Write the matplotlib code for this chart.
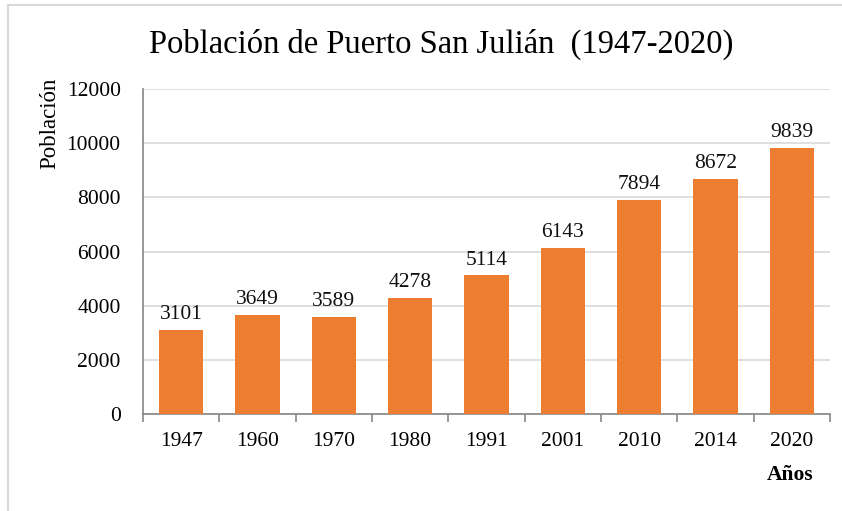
import matplotlib.pyplot as plt
from matplotlib.patches import Rectangle

years = ['1947', '1960', '1970', '1980', '1991', '2001', '2010', '2014', '2020']
population = [3101, 3649, 3589, 4278, 5114, 6143, 7894, 8672, 9839]
yticks = [0, 2000, 4000, 6000, 8000, 10000, 12000]

plt.rcParams['font.family'] = ['Liberation Serif', 'DejaVu Serif']

fig = plt.figure(figsize=(8.42, 5.11), dpi=100)
W, H = 842, 511
ax = fig.add_axes([143 / W, 1 - 414 / H, (830 - 143) / W, (414 - 89) / H])

x = list(range(len(years)))
bars = ax.bar(x, population, width=0.58, color='#ED7D31', zorder=3)
for xi, v in zip(x, population):
    ax.text(xi, v + 220, str(v), ha='center', va='bottom', fontsize=15.5, color='#111111')

ax.set_xlim(-0.5, len(years) - 0.5)
ax.set_ylim(0, 12000)
ax.set_yticks(yticks)
ax.set_yticklabels([str(t) for t in yticks], fontsize=15.5)
ax.yaxis.grid(True, color='#D9D9D9', linewidth=1.2, zorder=0)
ax.tick_params(axis='y', length=0, pad=16)

ax.set_xticks(x)
ax.set_xticklabels(years, fontsize=15.5)
ax.tick_params(axis='x', length=0, pad=13)
ax.set_xticks([i - 0.5 for i in range(len(years) + 1)], minor=True)
ax.tick_params(axis='x', which='minor', length=6, color='#868686', width=1.2)

for s in ['top', 'right']:
    ax.spines[s].set_visible(False)
for s in ['left', 'bottom']:
    ax.spines[s].set_color('#868686')
    ax.spines[s].set_linewidth(1.2)

fig.text(441 / W, 1 - 44 / H, 'Población de Puerto San Julián  (1947-2020)',
         ha='center', va='center', fontsize=23.5)
fig.text(50 / W, 1 - 123 / H, 'Población', rotation=90, ha='center', va='center', fontsize=16.5)
fig.text(790 / W, 1 - 475 / H, 'Años', ha='center', va='center', fontsize=15.5, fontweight='bold')

fig.patches.append(Rectangle((8 / W, -0.1), 1.2, 1 - 5 / H + 0.1, transform=fig.transFigure,
                             fill=False, edgecolor='#D9D9D9', linewidth=1.5))

fig.savefig('out.png', dpi=100)
